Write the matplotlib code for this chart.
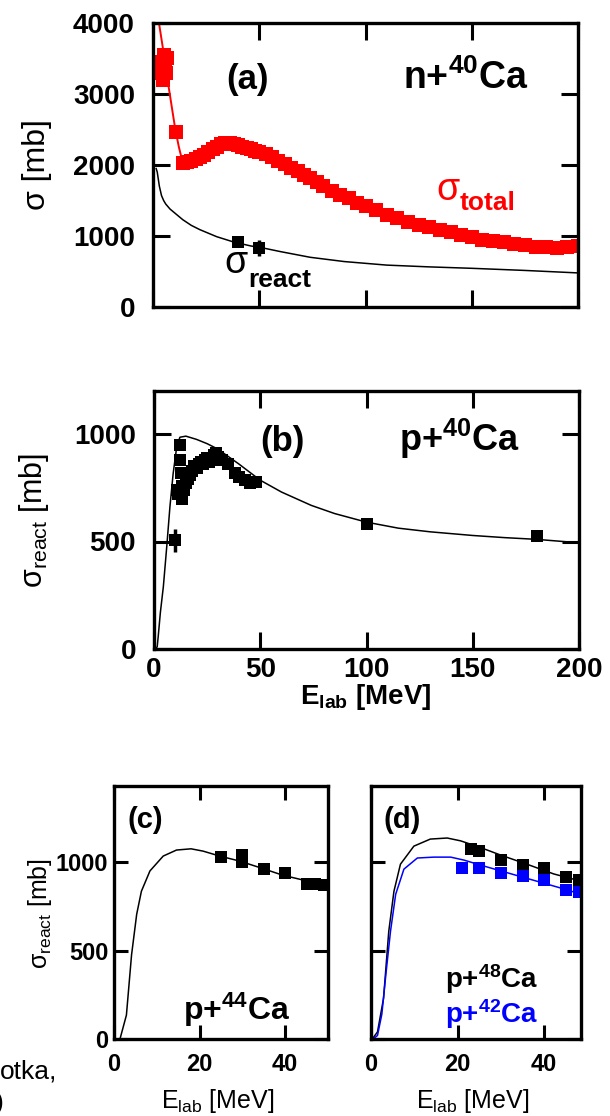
import matplotlib

matplotlib.use("Agg")
import matplotlib.pyplot as plt

plt.rcParams["font.family"] = ["Liberation Sans", "DejaVu Sans"]

W, H = 610, 1116

# ---------------- data ----------------
# (a) n+40Ca, total cross section (red squares)
ntot_low_E = [3, 3.5, 4, 4.5, 5, 5.5, 6, 6.5, 11]
ntot_low = [3300, 3450, 3350, 3200, 3550, 3400, 3300, 3500, 2470]
ntot_E = [14, 16, 18, 20, 22, 24, 26, 28, 30, 32, 34, 36, 38, 40, 42, 44, 46, 48,
          50, 53, 56, 59, 62, 65, 68, 71, 74, 77, 80, 84, 88, 92, 96, 100, 105,
          110, 115, 120, 125, 130, 135, 140, 145, 150, 155, 160, 165, 170, 175,
          180, 185, 190, 195, 200]
ntot = [2030, 2040, 2060, 2080, 2110, 2140, 2180, 2220, 2260, 2290, 2310, 2310,
        2300, 2280, 2260, 2240, 2220, 2200, 2180, 2150, 2110, 2060, 2010, 1960,
        1910, 1860, 1810, 1760, 1710, 1640, 1580, 1530, 1470, 1420, 1360, 1300,
        1250, 1200, 1160, 1120, 1080, 1050, 1010, 980, 950, 930, 910, 890, 870,
        850, 840, 830, 840, 860]
# steep start of the red curve
ntot_fit_E = [2.5, 5, 7, 10.5, 12.2]
ntot_fit = [4060, 3580, 3170, 2500, 2250]
# reaction cross section curve and data
nreac_fit_E = [1.5, 2, 3, 4, 5, 6, 8, 10, 14, 18, 22, 30, 38, 46, 52, 60, 74, 90,
               110, 130, 150, 175, 200]
nreac_fit = [1950, 1900, 1700, 1570, 1500, 1450, 1380, 1330, 1230, 1150, 1090,
             990, 915, 860, 830, 780, 700, 640, 590, 565, 545, 515, 480]
nreac_E = [40, 50]
nreac = [910, 830]
nreac_err = [40, 110]

# (b) p+40Ca
p40_fit_E = [0.5, 1.5, 2, 3, 4.4, 6, 7.5, 9, 10.7, 12.2, 15, 20, 25, 30, 40, 50,
             60, 74, 85, 100, 115, 130, 150, 165, 180, 200]
p40_fit = [0, 10, 60, 170, 290, 476, 662, 815, 941, 985, 990, 975, 955, 930, 860,
           785, 730, 668, 630, 590, 562, 545, 528, 518, 510, 494]
p40_E = [10, 11, 11.5, 12, 12, 12.5, 13, 13, 14, 15, 16, 17, 18, 19, 20, 21, 22,
         23, 24, 25, 26, 27, 28, 29, 30, 32, 35, 38, 40, 43, 45, 48, 100, 180]
p40 = [505, 740, 720, 950, 880, 820, 760, 700, 740, 770, 790, 810, 830, 850, 840,
       860, 870, 860, 880, 890, 870, 880, 900, 910, 895, 880, 860, 820, 800, 785,
       770, 775, 580, 525]

# (c) p+44Ca
p44_fit_E = [1.4, 2.9, 4.1, 5.3, 6.4, 8.4, 11.5, 14.6, 18, 20.8, 24.7, 29.3,
             34.7, 39.4, 50]
p44_fit = [0, 135, 475, 705, 835, 950, 1034, 1068, 1075, 1062, 1034, 1006, 964,
           926, 865]
p44_E = [25, 30, 30, 35, 40, 45, 47, 49]
p44 = [1030, 1040, 1000, 960, 940, 875, 875, 870]

# (d) p+48Ca (black) and p+42Ca (blue)
p48_fit_E = [0.3, 1.5, 2.9, 4.1, 5.3, 6.8, 9.9, 13.7, 17.6, 20.7, 25.3, 29.9, 36,
             42.2, 48.5]
p48_fit = [0, 40, 230, 608, 835, 988, 1090, 1130, 1136, 1120, 1082, 1040, 988,
           933, 892]
p48_E = [23, 25, 30, 35, 40, 45, 48]
p48 = [1072, 1063, 1011, 986, 964, 915, 896]
p42_fit_E = [0.5, 1.5, 2.5, 3.5, 4.5, 5.7, 7.6, 10.7, 14.5, 18.4, 21.5, 25, 30,
             35, 40, 45, 48.5]
p42_fit = [0, 20, 140, 380, 608, 818, 960, 1023, 1028, 1028, 1011, 985, 950, 915,
           880, 845, 818]
p42_E = [21, 25, 30, 35, 40, 45, 48]
p42 = [965, 968, 940, 920, 900, 845, 831]


def rect(l, t, r, b):
    return [l / W, 1 - b / H, (r - l) / W, (b - t) / H]


def ftext(fig, x, y, s, **kw):
    fig.text(x / W, 1 - y / H, s, **kw)


def style(ax, size, pad_x, pad_y, length, bold=True):
    ax.tick_params(direction="in", length=length, width=2.2, top=True, right=True,
                   labelsize=size)
    ax.tick_params(axis="x", pad=pad_x)
    ax.tick_params(axis="y", pad=pad_y)
    for sp in ax.spines.values():
        sp.set_linewidth(2.4)
    if bold:
        plt.setp(ax.get_xticklabels() + ax.get_yticklabels(), fontweight="bold")


fig = plt.figure(figsize=(W / 100, H / 100), dpi=100)

# ---- (a) ----
ax = fig.add_axes(rect(153, 23, 578, 307))
ax.plot(ntot_fit_E + ntot_E, ntot_fit + ntot, color="red", lw=1.4)
ax.plot(ntot_low_E + ntot_E, ntot_low + ntot, "s", color="red", ms=10, mew=0)
ax.plot(nreac_fit_E, nreac_fit, color="black", lw=1.1)
ax.errorbar(nreac_E, nreac, yerr=nreac_err, xerr=2, fmt="s", color="black",
            ms=8.5, mew=0, elinewidth=2.5, capsize=0)
ax.set_xlim(0, 200)
ax.set_ylim(0, 4000)
ax.set_xticks([0, 50, 100, 150, 200])
ax.set_yticks([0, 1000, 2000, 3000, 4000])
ax.set_xticklabels([])
style(ax, 20, 9, 13, 12)

# ---- (b) ----
ax = fig.add_axes(rect(154, 391, 579, 649))
ax.plot(p40_fit_E, p40_fit, color="black", lw=1.1)
ax.errorbar(p40_E[:1], p40[:1], yerr=55, xerr=1.5, fmt="s", color="black",
            ms=8.5, mew=0, elinewidth=2.5, capsize=0)
ax.plot(p40_E[1:], p40[1:], "s", color="black", ms=8.5, mew=0)
ax.set_xlim(0, 200)
ax.set_ylim(0, 1200)
ax.set_xticks([0, 50, 100, 150, 200])
ax.set_yticks([0, 500, 1000])
style(ax, 20, 6, 13, 12)

# ---- (c) ----
ax = fig.add_axes(rect(114, 786, 328, 1039))
ax.plot(p44_fit_E, p44_fit, color="black", lw=1.1)
ax.plot(p44_E, p44, "s", color="black", ms=9, mew=0)
ax.set_xlim(0, 50)
ax.set_ylim(0, 1430)
ax.set_xticks([0, 20, 40])
ax.set_yticks([0, 500, 1000])
style(ax, 17, 10, 4, 10)

# ---- (d) ----
ax = fig.add_axes(rect(371, 786, 581, 1039))
ax.plot(p48_fit_E, p48_fit, color="black", lw=1.1)
ax.plot(p42_fit_E, p42_fit, color="blue", lw=1.1)
ax.plot(p48_E, p48, "s", color="black", ms=8.5, mew=0)
ax.plot(p42_E, p42, "s", color="blue", ms=8.5, mew=0)
ax.set_xlim(0, 48.5)
ax.set_ylim(0, 1430)
ax.set_xticks([0, 20, 40])
ax.set_yticks([0, 500, 1000])
ax.set_yticklabels([])
style(ax, 17, 10, 4, 10)

# ---- texts ----
bold = dict(fontweight="bold")
ftext(fig, 248, 80, "(a)", fontsize=25, ha="center", va="center", **bold)
ftext(fig, 466, 89, r"n+$\mathregular{^{40}}$Ca", fontsize=27, ha="center",
      va="baseline", **bold)
ftext(fig, 448, 200, "σ", fontsize=27, color="red", ha="center", va="baseline")
ftext(fig, 460, 210, "total", fontsize=19, color="red", ha="left",
      va="baseline", **bold)
ftext(fig, 236, 273, "σ", fontsize=27, ha="center", va="baseline")
ftext(fig, 248, 287, "react", fontsize=19, ha="left", va="baseline", **bold)

ftext(fig, 282, 451, "(b)", fontsize=25, ha="center", va="baseline", **bold)
ftext(fig, 459, 451, r"p+$\mathregular{^{40}}$Ca", fontsize=26, ha="center",
      va="baseline", **bold)

ftext(fig, 145, 828, "(c)", fontsize=21, ha="center", va="baseline", **bold)
ftext(fig, 237, 1020, r"p+$\mathregular{^{44}}$Ca", fontsize=23, ha="center",
      va="baseline", **bold)
ftext(fig, 402, 828, "(d)", fontsize=21, ha="center", va="baseline", **bold)
ftext(fig, 492, 988, r"p+$\mathregular{^{48}}$Ca", fontsize=20, ha="center",
      va="baseline", **bold)
ftext(fig, 492, 1023, r"p+$\mathregular{^{42}}$Ca", fontsize=20, ha="center",
      va="baseline", color="blue", **bold)

# axis labels
ftext(fig, 37, 165, "σ [mb]", fontsize=23, rotation=90, ha="center",
      va="center")
ftext(fig, 34, 520, r"$\mathregular{σ_{react}}$ [mb]", fontsize=22,
      rotation=90, ha="center", va="center")
ftext(fig, 40, 913, r"$\mathregular{σ_{react}}$ [mb]", fontsize=18,
      rotation=90, ha="center", va="center")
ftext(fig, 366, 697, r"$\mathregular{E_{lab}}$ [MeV]", fontsize=20,
      ha="center", va="center", **bold)
ftext(fig, 218, 1101, r"$\mathregular{E_{lab}}$ [MeV]", fontsize=18,
      ha="center", va="center")
ftext(fig, 473, 1101, r"$\mathregular{E_{lab}}$ [MeV]", fontsize=18,
      ha="center", va="center")

# clipped text at the lower left edge
ftext(fig, 0, 1079, "otka,", fontsize=19, ha="left", va="baseline")
ftext(fig, -5, 1110, ")", fontsize=19, ha="left", va="baseline")

fig.savefig("out.png", dpi=100)
